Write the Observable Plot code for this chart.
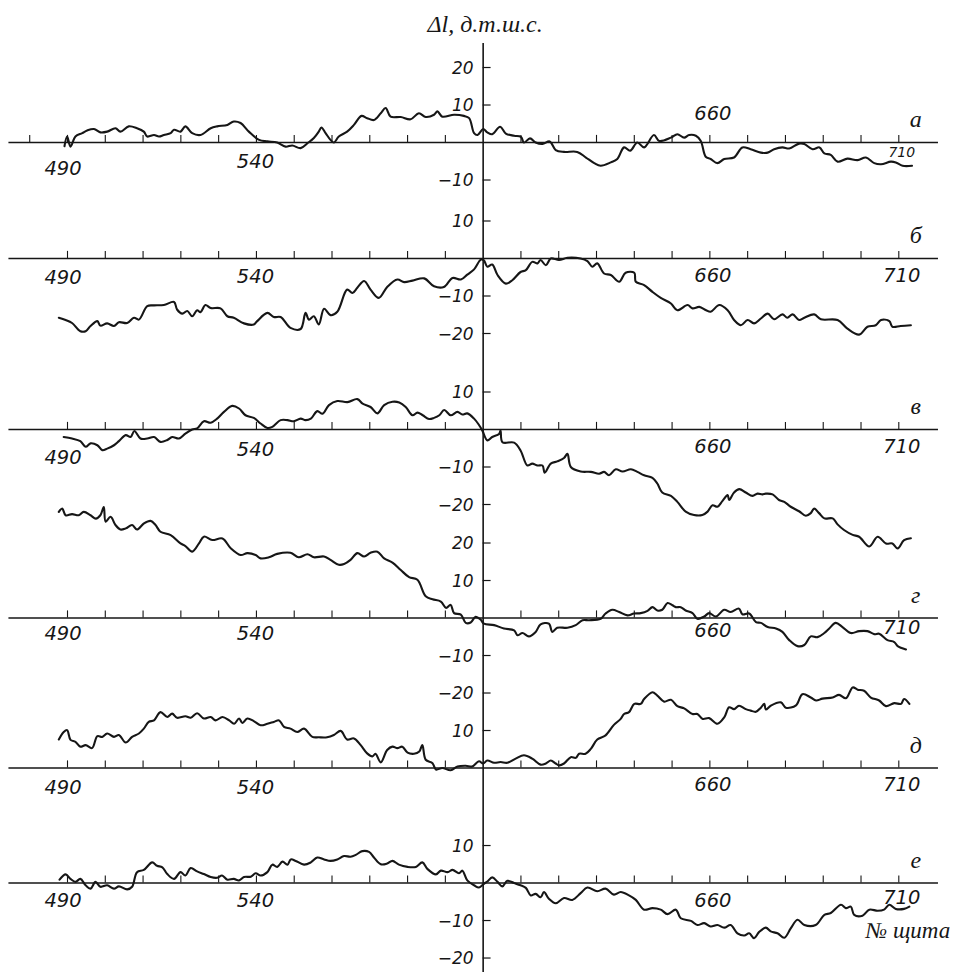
<!DOCTYPE html>
<html><head><meta charset="utf-8">
<script src="https://cdn.jsdelivr.net/npm/d3@7"></script>
<script src="https://cdn.jsdelivr.net/npm/@observablehq/plot@0.6"></script>
<style>html,body{margin:0;padding:0;background:#fff;} #chart{width:955px;height:972px;overflow:hidden}</style>
</head><body><div id="chart"></div>
<script>
// ---- data ----
const panelNames = ["а", "б", "в", "г", "д", "е"];
const xTickLabels = [490, 540, 660, 710];
const xTickValues = [490, 500, 510, 520, 530, 540, 550, 560, 570, 580, 590, 610, 620, 630, 640, 650, 660, 670, 680, 690, 700, 710];
const yTickValues = [[20, 10, -10], [10, -10, -20], [10, -10, -20], [20, 10, -10, -20], [10], [10, -10, -20]];
const yTitle = "Δl, д.т.ш.с.";
const xTitle = "№ щита";

const seriesA = [[489.2,-1],[489.9,1.6],[490.8,-1.1],[492.1,1.6],[493.9,2.5],[495.2,3.2],[497,3.6],[498.7,2.7],[500.5,2.9],[502.7,3.8],[504,2.9],[506.2,4.3],[508.4,3.8],[510.2,2.9],[511.1,1.6],[512.9,2],[514.2,1.6],[515.5,2],[517.3,2.5],[518.2,3.4],[519.9,2.9],[521.2,4.3],[523,2.5],[525.2,2],[527.9,3.8],[529.6,4.3],[532.3,4.7],[534,5.6],[535.8,5.2],[538,2.9],[540.7,0.7],[542.9,0.3],[545.5,0],[547.7,-1.1],[549.5,-0.8],[551.7,-1.5],[553.5,-0.2],[555.2,1.2],[556.5,2.9],[557.2,4],[558.3,2.5],[559.6,0.7],[560.5,0],[561.8,1.6],[564,2.9],[565.8,4.7],[567.8,7.1],[569.3,6.5],[571.1,6],[572.9,7.8],[574.2,9.2],[575.5,6.9],[578.2,6.8],[580.8,6.2],[583,7.8],[584.8,6.8],[587,7.4],[587.9,8.3],[589.2,6.9],[592.3,7.4],[594.9,7.1],[596.3,6.5],[597.6,2.5],[598.5,2],[600,3.6],[601.1,2.7],[602.4,2.2],[604.5,4.2],[606,2.4],[608.2,1.8],[610,1.5],[610.8,0],[612.4,1.1],[613.9,0],[615.7,-0.4],[617.6,0.3],[619.2,-2],[621.4,-2.5],[624.9,-2.5],[627.2,-4],[629.4,-5.5],[631.1,-6.2],[633.8,-5.3],[635.5,-4.4],[637.3,-1.3],[638.9,-2.2],[640.8,0],[642.6,-1.3],[645.2,2],[646.6,0.4],[649.7,1.3],[651.4,2.2],[653.2,1.3],[654.5,2],[656.3,1.8],[657.6,0.4],[658.9,-3.8],[660.2,-4.4],[662,-5.5],[663.8,-4.4],[666.4,-4],[668.6,-1.3],[670.8,-1.8],[673.5,-2.7],[675.3,-2.7],[677,-1.8],[679.2,-1.3],[681,-1.6],[683.6,-0.3],[685,-0.4],[687.2,-1.8],[689,-1.3],[690.3,-2.9],[692,-3.3],[693.8,-5.1],[696.4,-4.3],[699.1,-4.7],[701.3,-4],[703.5,-5.5],[705.3,-5.8],[707.9,-5.1],[709.2,-5.3],[711,-6.2],[713.5,-6.2]];

const seriesB = [[487.7,-15.8],[489.5,-16.4],[491.2,-17.2],[493.4,-19.4],[494.8,-19.4],[496.1,-18],[497.9,-16.7],[498.7,-17.9],[500.5,-17.3],[502.3,-18],[503.6,-17],[505.8,-17.2],[507.6,-15.8],[508.9,-16.3],[511.1,-12.7],[512.9,-12.5],[515.5,-12.4],[518.2,-11.6],[519,-13.6],[520.4,-14.7],[521.7,-14],[523,-15.4],[524.3,-13.8],[525.2,-14.3],[526.5,-12.4],[527.9,-13.2],[530.5,-13.3],[532.3,-15.4],[534,-15.8],[536.7,-17.3],[539.3,-17.6],[540.2,-16.7],[542.9,-14.5],[544.6,-15.6],[546.4,-15.6],[549,-18.5],[551.7,-18.8],[553,-14.5],[553.9,-16.3],[555.2,-15.4],[556.5,-17.6],[557.9,-13.4],[559.6,-15.1],[561.4,-14.2],[564,-8.3],[565.4,-9.2],[566.7,-7.8],[568.5,-6],[570.2,-8.3],[572.4,-10.5],[574.6,-7.6],[577.3,-5.6],[579.1,-6.3],[581.3,-5.9],[584.4,-5.3],[587,-7.4],[589.6,-7.6],[591.9,-5.2],[594.1,-5.6],[595.8,-4.3],[597.6,-2.9],[599.4,-0.3],[600.2,-0.5],[601.1,-2.2],[602.4,-1.6],[603.8,-4.4],[606,-6.7],[607.7,-5.8],[609.9,-3.6],[611.3,-3.1],[613,-0.9],[614.4,-1.3],[615.2,-0.4],[616.6,-1.8],[617.9,0],[620.1,-0.4],[622.3,0.2],[625.8,0],[627.6,-0.7],[628.9,-2.2],[630.2,-1.3],[632,-4],[633.8,-4.4],[636,-6.2],[637.7,-3.8],[640,-3.8],[640.4,-6.2],[642.6,-7.1],[644.8,-8.9],[647,-10.5],[649.7,-12],[651.4,-13.8],[654.1,-12.4],[655.4,-13.3],[657.2,-12.9],[659,-13.8],[660.2,-14.2],[662.5,-12.4],[664.7,-13.8],[666.4,-16.4],[668.2,-17.8],[670,-16.4],[671.7,-17.3],[673.5,-16],[675.3,-14.7],[677,-16.2],[679.2,-14.9],[680.5,-15.8],[681.9,-14.9],[683.6,-16.4],[685,-15.8],[687.6,-14.9],[689.4,-16.2],[693.8,-16.4],[696.4,-18.7],[699.5,-20.3],[701.7,-18.2],[703.9,-17.8],[705.3,-16.4],[707.5,-16.7],[708.3,-18.2],[710.5,-18],[713.2,-17.8]];

const seriesV = [[489,-2],[491.2,-2.4],[493.4,-3.1],[494.8,-4.6],[496.1,-3.7],[497.9,-4.2],[499.2,-5.5],[500.5,-5.1],[502.3,-4.2],[503.6,-3.1],[505.4,-1.5],[506.7,-2],[507.7,-0.4],[509.3,-2.4],[511.1,-2.4],[512.9,-2],[514.6,-3.3],[516.4,-2.8],[517.7,-2],[519.5,-2.4],[521.2,-1.1],[523,0],[524.3,0.3],[526.1,2.2],[527.9,1.8],[529.6,2.9],[531.4,4.7],[533.6,6.3],[535.4,5.6],[537.1,3.8],[539.3,3.1],[541.1,1.6],[542.9,0.4],[544.2,0.7],[546.4,2.5],[548.2,2.5],[549.9,2.2],[551.7,2.9],[553,2.5],[554.4,2.9],[556.1,4.9],[557.5,4.2],[559.2,6.5],[561.4,7.6],[564.1,7.3],[566.7,8.1],[568.1,6.9],[570.2,6],[572,4.3],[573.8,6.5],[576,7.4],[577.8,7.2],[579.5,6],[581.3,3.8],[582.6,4.5],[584,3.8],[585.7,2.8],[587,3.1],[588.4,3.8],[589.7,5.2],[591.4,3.8],[593.2,4.7],[594.5,4],[595.8,4.3],[597.6,2.9],[598.9,1.2],[599.8,-0.3],[601.1,-2.9],[602.4,-2],[604.2,-1.2],[604.6,-0.3],[605.1,-3.4],[608.2,-3.5],[609.9,-5.6],[611.7,-9.6],[613,-9.1],[614.4,-9.6],[615.7,-9.6],[616.3,-11.5],[617.9,-9.1],[619.6,-8.5],[621.4,-7.6],[622.3,-6.5],[623.2,-10],[625.8,-11.2],[628.5,-11.3],[630.7,-11.8],[632,-11.3],[633.3,-12.2],[635.1,-10.6],[636.9,-11.2],[639.1,-10.6],[640.8,-11.3],[642.6,-12.2],[644.8,-12.9],[646.1,-14.4],[647.4,-16.8],[649.7,-17.7],[651.4,-19.3],[653.6,-21.9],[655.8,-22.8],[658,-22.8],[659.4,-21.9],[660.7,-20.2],[662,-20.6],[663.3,-19.1],[664.7,-17.5],[665.1,-18.8],[666.4,-16.8],[667.8,-15.9],[669.5,-16.8],[671.3,-17.7],[672.6,-17.1],[673.9,-17.3],[674.8,-17.1],[676.6,-17.3],[678.3,-18.8],[679.7,-19.3],[681.4,-20.6],[683.6,-21.8],[685.4,-23],[686.7,-22.3],[687.6,-21.1],[688.9,-22.3],[690.3,-23.7],[692.5,-23.7],[693.8,-25.3],[695.5,-26.8],[697.8,-28.1],[699.5,-28.6],[702.2,-31.2],[704.4,-28.6],[706.6,-30.4],[708.3,-30.4],[709.7,-31.7],[711.4,-29.5],[713.2,-29]];

const seriesG = [[487.7,28.3],[488.6,29.2],[489.5,27.4],[491.2,27.7],[493,27.4],[494.3,28.3],[496.1,27.4],[497.5,26.5],[498.7,27.4],[499.6,29.6],[500.1,25.7],[501.4,27],[502.7,24.8],[504,23.6],[505.4,23.9],[507.1,24.8],[508.4,23.6],[510.2,25.2],[512,25.9],[513.3,24.8],[514.6,23],[517.3,22.1],[519.9,19.9],[521.2,19.2],[523,17.7],[524.8,19.9],[526.1,21.7],[528.3,20.8],[531,21.2],[533.2,18.6],[535.8,16.8],[537.6,17.3],[539.8,16.8],[541.1,15.9],[543.3,16.2],[545.5,17.1],[549,17.4],[551.2,16.2],[553.5,17],[555.2,16.2],[557.9,16.4],[559.6,15.5],[561.8,14.2],[563.2,14.4],[564.9,15.5],[566.7,17.3],[568.5,16.4],[570.2,17.4],[572,17.7],[573.8,15.9],[576,14.8],[578.2,12.8],[580.4,10.9],[582.6,10.2],[584.8,5.8],[586.6,5],[588.8,4.4],[590.2,2.7],[591.4,3.5],[592.3,1.3],[594.1,0.9],[595.4,-1.3],[596.7,-1.2],[598,0.3],[599.3,-0.4],[600.2,-1.5],[602.9,-1.9],[605.5,-2.8],[608.2,-3.3],[609.1,-4.6],[610.4,-4],[612.1,-4.9],[613.9,-3.7],[615.2,-1.7],[617.4,-1.5],[618.3,-3.7],[619.6,-2.6],[622.3,-2.6],[624.5,-1.9],[626.3,-0.6],[628,-0.6],[631.1,-0.2],[632.4,1.2],[634.2,2.2],[636,1.6],[638.2,0.7],[639.9,1.2],[641.7,1.3],[643.5,1.9],[644.8,2.9],[646.1,2],[647.4,2.2],[648.8,4],[650.1,3.4],[651,2.9],[652.3,2.9],[653.6,2],[655.4,1.3],[656.7,-0.2],[658.5,0.4],[659.8,1.3],[661.6,0.4],[663.8,2.2],[665.5,1.6],[667.7,2.5],[668.6,1],[670.4,1.2],[672.2,-1.1],[673.5,-1.3],[675.3,-2.4],[677.5,-2.8],[679.2,-3.7],[681,-5.9],[683.2,-7.5],[685,-7.2],[686.7,-4.9],[688.5,-5.1],[690.3,-4],[691.6,-2.8],[693.3,-1.3],[695.1,-2.4],[697.3,-4],[699.5,-3.5],[701.7,-3.5],[703.5,-4.3],[704.8,-4.2],[707,-5.9],[708.8,-6.4],[709.7,-7.5],[711.9,-8.4]];

const seriesD = [[487.7,7.6],[489,9.6],[489.9,10.1],[490.8,7.5],[492.1,7],[493.4,5.7],[494.8,6.1],[496.5,5.3],[497.9,8.5],[499.2,8.3],[500.5,9.2],[502.3,8.3],[503.6,8.8],[505.4,6.8],[507.1,8.3],[508.9,9.2],[510.2,10.5],[511.5,12.3],[512.9,12.7],[514.6,14.9],[516.4,13.6],[517.7,14.5],[519,13.4],[521.2,13.8],[522.6,13.4],[524.3,14.6],[526.1,13.2],[527.9,13.6],[529.2,12.7],[531,13.6],[532.8,12.7],[534.1,11.8],[535.4,13.2],[536.3,12],[537.6,13.2],[539.3,12.5],[541.1,11.4],[542.9,11.8],[544.6,12.3],[546,12.7],[547.3,11],[549,10.5],[550.8,9.6],[552.6,10.5],[554.8,8.3],[556.5,8.2],[558.7,8.2],[560.5,8.8],[562.3,9.9],[564,7.6],[565.8,7.9],[567.6,6.1],[569.3,3.9],[570.7,3.1],[571.5,3.8],[572.9,1.5],[574.6,4.8],[576,5.7],[577.3,5.3],[578.6,5.7],[580,4.1],[581.7,3.8],[583.1,4.4],[583.9,6.1],[584.8,2.2],[586.6,1.3],[587.5,-0.4],[589.2,0],[591.4,-0.6],[593.2,0.4],[595.4,0.6],[597.1,0.4],[598.9,1.8],[600,1.2],[601.1,2],[602.9,1.4],[604.6,1.6],[606.4,1.4],[608.6,2.5],[610.8,3.4],[613,2.5],[615.2,0.9],[616.6,1.2],[617.9,2],[619.2,1.2],[620.1,0.7],[621.4,1.2],[623.2,2.9],[624.5,2.7],[625.4,3.8],[627.1,3.8],[628.5,5.1],[630.2,7.6],[632.4,8.7],[634.6,11.5],[636.4,13.1],[637.3,14.4],[638.6,14.9],[640,17.1],[641.7,17.1],[642.6,18.4],[644.8,20.2],[646.1,19.3],[647.9,17.7],[649.7,18.2],[651.4,16.5],[653.2,15.9],[655.4,14.4],[656.7,14.4],[658.1,13.1],[659.8,13.3],[662,11.8],[663.8,13.5],[665.1,16.2],[666.4,15.7],[667.7,16.6],[669.5,15.7],[670.8,15.3],[672.2,15],[673.5,16.1],[674.4,17.1],[674.8,15.6],[676.1,16.6],[678.8,17.5],[680.1,16.1],[682.8,16.7],[684.5,19.7],[686.7,18.8],[688.1,18],[689.8,18.5],[692.5,18.8],[694.2,19.5],[696,18.6],[697.8,21.5],[699.1,20.9],[700.8,20.6],[702.6,18.8],[704.8,18],[706.6,16.5],[708.8,17.3],[710.6,17.1],[711.4,18.4],[712.8,17.1]];

const seriesE = [[487.9,0.9],[489.5,2.3],[490.8,1.1],[492.1,0.3],[493.4,1.1],[494.8,-0.6],[496.1,-1.5],[497.4,0.3],[498.7,-1],[500.5,-0.6],[502.3,-1.5],[503.6,-0.9],[505.8,-1.7],[507.1,-1],[508.4,2.9],[510.2,3.5],[512.4,5.5],[513.7,4.6],[515.1,4.2],[516.4,2.4],[518.2,1.1],[519.9,2.9],[521.2,2],[522.6,4],[524.3,3.1],[526.1,2.4],[527.9,1.6],[529.6,1.4],[530.9,2],[532.3,0.9],[534,1.1],[535.4,0.7],[536.7,1.6],[538.5,1.7],[539.8,2.6],[541.1,2],[542.9,2.9],[544.2,4.9],[545.5,4.3],[546.9,5.7],[548.2,4.9],[549.1,6.3],[550.4,5.9],[552.6,4.9],[554.4,5.5],[556.1,6.8],[557.9,6.3],[559.6,5.9],[561.4,6.3],[563.2,7.2],[564.9,7],[566.3,7.5],[568,8.5],[569.8,8.3],[571.1,6.8],[572.9,5],[574.6,5.2],[576,5.9],[577.7,4.9],[580,4.3],[582.2,4.3],[583.9,5.5],[585.3,3.7],[587.5,2.3],[588.8,3.3],[590.6,2.9],[591.9,3.5],[593.6,2.6],[594.5,3.3],[595.8,0.7],[597.6,-0.6],[598.9,-1.2],[600.2,-0.2],[601.1,0.4],[602.4,1.5],[603.8,0.3],[605.1,-0.9],[606.4,0.6],[608.2,0],[609.9,-0.6],[611.3,-1.3],[612.6,-3.3],[613.9,-2.9],[615.2,-3.8],[616.1,-2.4],[617.4,-4.2],[619.2,-5.4],[621.4,-4],[623.6,-4.5],[625.8,-2.7],[627.6,-1.2],[630.2,-2.2],[632.4,-1.5],[634.6,-3.1],[636.4,-2.4],[638.6,-3.3],[640.4,-4.5],[642.6,-7.1],[644.8,-6.7],[647,-7.1],[648.8,-8.3],[651,-7.1],[652.3,-9.4],[655,-10.1],[656.7,-11.2],[658.5,-10.7],[660.2,-11.6],[662,-11.2],[663.8,-11.9],[665.5,-11.2],[667.3,-13.4],[669.1,-14],[670.4,-13.4],[671.7,-14.7],[673,-13.1],[674.8,-11.9],[676.1,-12.9],[677.9,-13.4],[679.7,-14.6],[681.4,-12.1],[683.2,-9.8],[685,-11.2],[688,-11.2],[690.3,-8.5],[692,-8],[694.7,-5.8],[696,-6.7],[697.3,-6.3],[698.2,-8.5],[700.4,-8.7],[702.2,-7.1],[704.4,-7.4],[706.1,-7.1],[707.5,-5.8],[709.2,-6.9],[711.4,-6.9],[712.8,-6.3]];

// ---- layout (not data) ----
const seriesList = [seriesA, seriesB, seriesV, seriesG, seriesD, seriesE];
const panelBase = [0, -30.93, -76.53, -126.8, -166.8, -197.47];   // vertical offset of each panel, in value units
const pxPerX = 3.777, pxPerY = 3.75;
const xLabelDx = [-4.5, -1, 3, 3];                                   // label shift in px
const xLabelDy = [[26,19.5,-28.5,10],[19.5,18.5,17,17],[28.5,20.5,17,17],[16,16,13,10],[20,20,17,17],[18,18,18,15]];
const ink = "#161616";
const numFont = "DejaVu Sans";
const cyrFont = "Liberation Serif";

const lineData = seriesList.flatMap((s, p) => s.map(([x, v]) => ({panel: p, x, y: v + panelBase[p]})));
const baseData = panelBase.map((b, p) => ({panel: p, y: b}));
const tickData = panelBase.flatMap((b, p) =>
  (p === 0 ? [480, ...xTickValues] : xTickValues).map(x => ({x, y: b})));
const yTickData = yTickValues.flatMap((vals, p) => vals.map(v => ({v, y: v + panelBase[p]})));
const xLabelData = panelBase.flatMap((b, p) => xTickLabels.map((v, i) => ({
  v,
  lx: v + xLabelDx[i] / pxPerX,
  ly: b - xLabelDy[p][i] / pxPerY,
  small: p === 0 && v === 710})));

const fmt = v => v < 0 ? "\u2212" + Math.abs(v) : String(v);

const chart = Plot.plot({
  width: 955,
  height: 972,
  margin: 0,
  style: {background: "#fff", overflow: "visible"},
  x: {domain: [490, 710], range: [67, 898.3], axis: null},
  y: {domain: [-221.33, 37.87], range: [972, 0], axis: null},
  marks: [
    Plot.ruleY(baseData, {y: "y", x1: 474.5, x2: 720.5, stroke: ink, strokeWidth: 1.4}),
    Plot.ruleX(tickData, {x: "x", y1: "y", y2: d => d.y + 1.9, stroke: ink, strokeWidth: 1.1}),
    Plot.ruleX([600], {x: d => d, y1: -221.4, y2: 26.4, stroke: ink, strokeWidth: 1.6}),
    Plot.ruleY(yTickData, {y: "y", x1: 600, x2: 602.1, stroke: ink, strokeWidth: 1.2}),
    Plot.text(yTickData, {x: 600, y: "y", text: d => fmt(d.v), dx: -9.5, dy: 1, textAnchor: "end",
      fill: ink, fontSize: 17, fontStyle: "italic", fontFamily: numFont}),
    Plot.line(lineData, {x: "x", y: "y", z: "panel", curve: "catmull-rom", stroke: ink, strokeWidth: 2.1}),
    Plot.text(xLabelData.filter(d => !d.small), {x: "lx", y: "ly", text: d => String(d.v),
      fill: ink, fontSize: 19.5, fontStyle: "italic", fontFamily: numFont}),
    Plot.text(xLabelData.filter(d => d.small), {x: "lx", y: "ly", text: d => String(d.v),
      fill: ink, fontSize: 14, fontStyle: "italic", fontFamily: numFont}),
    Plot.text(baseData, {x: 714.5, y: d => d.y + 6.1, text: d => panelNames[d.panel],
      fill: ink, fontSize: 24, fontStyle: "italic", fontFamily: cyrFont}),
    Plot.text([yTitle], {x: 600.5, y: 31.5, text: d => d, fill: ink, fontSize: 24,
      fontStyle: "italic", fontFamily: cyrFont}),
    Plot.text([xTitle], {x: 712.4, y: -210.1, text: d => d, fill: ink, fontSize: 23,
      fontStyle: "italic", fontFamily: cyrFont})
  ]
});
document.getElementById("chart").appendChild(chart);
</script>
</body></html>
